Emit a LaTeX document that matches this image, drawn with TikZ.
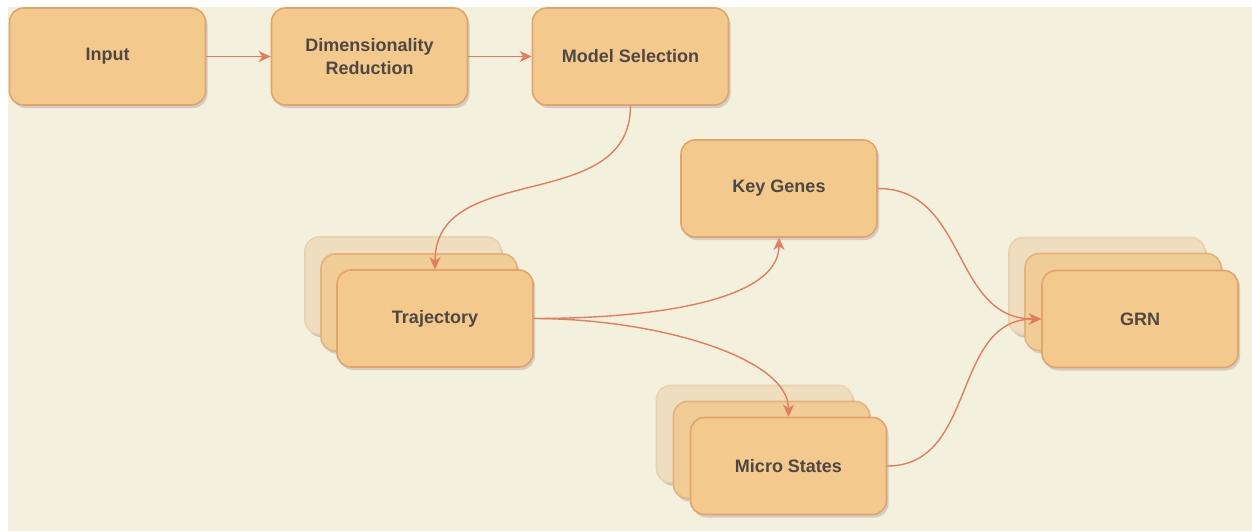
\documentclass[tikz,border=0pt]{standalone}
\usepackage{fontspec}
\setmainfont{Liberation Sans}
\usetikzlibrary{arrows.meta,shadows}
\definecolor{cream}{HTML}{F3F0DE}
\definecolor{boxfill}{HTML}{F4C98D}
\definecolor{boxdraw}{HTML}{E2A46B}
\definecolor{midfill}{HTML}{F0CD96}
\definecolor{middraw}{HTML}{E6B27C}
\definecolor{backfill}{HTML}{EFDDBF}
\definecolor{backdraw}{HTML}{EAD2AE}
\definecolor{arrowc}{HTML}{E37D5F}
\definecolor{txt}{HTML}{4D4843}
\definecolor{shadowc}{HTML}{9A8C9A}
\tikzset{
  box/.style={rectangle, rounded corners=14pt, minimum width=196pt, minimum height=97pt,
    fill=boxfill, draw=boxdraw, line width=1.6pt, align=center, text=txt,
    font=\fontsize{18}{23}\selectfont\bfseries,
    drop shadow={shadow xshift=2pt, shadow yshift=-3pt, opacity=0.35, fill=shadowc}},
  midcopy/.style={box, fill=midfill, draw=middraw},
  backcopy/.style={box, fill=backfill, draw=backdraw,
    drop shadow={shadow xshift=2pt, shadow yshift=-3pt, opacity=0.15, fill=shadowc}},
  conn/.style={draw=arrowc, line width=1.4pt, -{Stealth[length=12pt,width=11pt,inset=3.5pt]}},
}
\begin{document}
\begin{tikzpicture}[x=1pt,y=-1pt]
\useasboundingbox (0,0) rectangle (1252,531);
\fill[white] (0,0) rectangle (1252,531);
\fill[cream] (8,7) rectangle (1252,531);

\node[box] (in) at (107.5,56.5) {Input};
\node[box] (dr) at (369.5,56.5) {Dimensionality\\Reduction};
\node[box] (ms) at (630.5,56.5) {Model Selection};
\node[box] (kg) at (779,188.5) {Key Genes};

\node[backcopy] (trb) at (403,285.5) {};
\node[midcopy] (trm) at (419,302.5) {};
\node[box] (tr) at (435,318.5) {Trajectory};

\node[backcopy] (mib) at (754.5,434) {};
\node[midcopy] (mim) at (771.5,450) {};
\node[box] (mi) at (788.5,466) {Micro States};

\node[backcopy] (grb) at (1107,286) {};
\node[midcopy] (grm) at (1123,302) {};
\node[box] (grn) at (1140,319) {GRN};

\draw[conn] (in) -- (dr);
\draw[conn] (dr) -- (ms);
\draw[conn] (ms.south) .. controls +(0,110) and +(0,-110) .. (tr.north);
\draw[conn] (tr.east) .. controls +(120,0) and +(0,63) .. (kg.south);
\draw[conn] (tr.east) .. controls +(120,0) and +(0,-60) .. (mi.north);
\draw[conn] (kg.east) .. controls +(90,0) and +(-90,0) .. (grn.west);
\draw[conn] (mi.east) .. controls +(90,0) and +(-90,0) .. (grn.west);
\end{tikzpicture}
\end{document}
